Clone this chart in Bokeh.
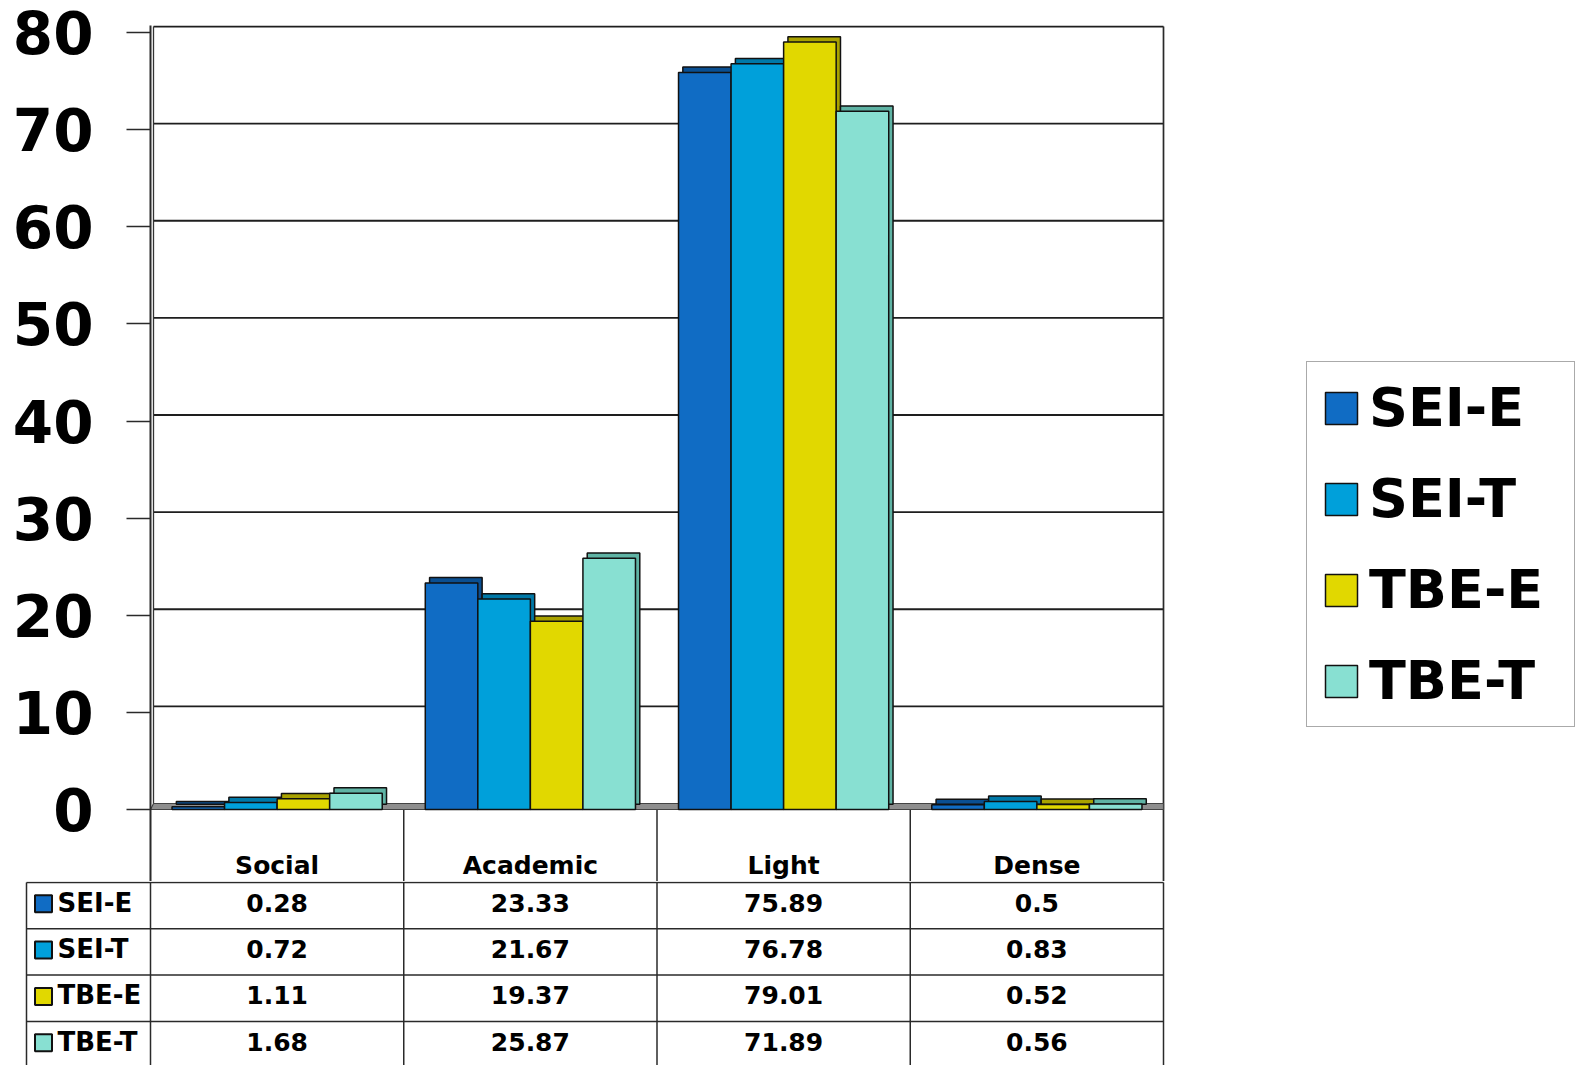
import numpy as np
from bokeh.plotting import figure
from bokeh.models import Range1d, FixedTicker, ColumnDataSource, Legend, LegendItem
from bokeh.layouts import column
from bokeh.transform import dodge
from bokeh.core.properties import value
from bokeh.embed import file_html
from bokeh.resources import INLINE

# ---------------- data ----------------
categories = ["Social", "Academic", "Light", "Dense"]
series_names = ["SEI-E", "SEI-T", "TBE-E", "TBE-T"]
sei_e = [0.28, 23.33, 75.89, 0.5]
sei_t = [0.72, 21.67, 76.78, 0.83]
tbe_e = [1.11, 19.37, 79.01, 0.52]
tbe_t = [1.68, 25.87, 71.89, 0.56]
y_ticks = [0, 10, 20, 30, 40, 50, 60, 70, 80]

series_values = [sei_e, sei_t, tbe_e, tbe_t]

# ---------------- style / geometry ----------------
front_colors = ["#106CC4", "#00A0DA", "#E1D800", "#88E0D2"]
side_colors = ["#0A4F92", "#0079A8", "#A9A200", "#5FB3A4"]
FONT = "DejaVu Sans"
LINE = "#2a2a2a"

W = 1579
H = 1065
FIG1_H = 881            # chart + table header
FIG2_H = H - FIG1_H     # table rows
AXIS_X = 150            # px of the value axis
PX_X = 253.25           # px per category
PX_Y = 9.7125           # px per value unit
ZERO_PX = 809           # px of value 0
TOP_PX = 25

n = len(categories)
BW = 0.2075          # bar width (category units)
BAR_DX = 0.017       # 3-D depth of the bars
BAR_DY = 0.55
WALL_DX = 3 / PX_X   # 3-D depth of back wall
WALL_DY = 0.62
Y_END = (ZERO_PX - TOP_PX) / PX_Y
Y_START = -(FIG1_H - ZERO_PX) / PX_Y
X_END = (W - AXIS_X) / PX_X

# ---------------- chart ----------------
p = figure(width=W, height=FIG1_H, output_backend="svg", toolbar_location=None,
           x_range=Range1d(0, X_END), y_range=Range1d(Y_START, Y_END),
           x_axis_location=None, min_border_left=AXIS_X, min_border_right=0,
           min_border_top=TOP_PX, min_border_bottom=0)
p.frame_align = False
p.background_fill_color = "white"
p.border_fill_color = "white"
p.outline_line_color = None
p.xgrid.visible = False
p.ygrid.visible = False

ax = p.yaxis[0]
ax.ticker = FixedTicker(ticks=y_ticks)
ax.axis_line_color = LINE
ax.axis_line_width = 2
ax.major_tick_line_color = LINE
ax.major_tick_line_width = 1.5
ax.major_tick_out = 24
ax.major_tick_in = 0
ax.minor_tick_line_color = None
ax.major_label_standoff = 33
ax.major_label_text_font = FONT
ax.major_label_text_font_style = "bold"
ax.major_label_text_font_size = "58px"
ax.major_label_text_color = "black"

# back-wall grid lines (incl. top border)
gy = np.array(y_ticks[1:], dtype=float) + WALL_DY
p.segment(x0=WALL_DX, x1=n, y0=gy, y1=gy, line_color="#1e1e1e", line_width=1.8)
# back wall left edge, right wall edge
p.segment(x0=WALL_DX, x1=WALL_DX, y0=WALL_DY, y1=y_ticks[-1] + WALL_DY,
          line_color="#333333", line_width=1.3)
p.segment(x0=n, x1=n, y0=Y_START, y1=y_ticks[-1] + WALL_DY, line_color=LINE, line_width=1.7)
# header column borders
hc = np.arange(1, n, dtype=float)
p.segment(x0=hc, x1=hc, y0=Y_START, y1=0, line_color=LINE, line_width=1.5)

# floor
p.patch(x=[0, n, n, WALL_DX], y=[0, 0, WALL_DY, WALL_DY],
        fill_color="#8E8E8E", line_color="#444444", line_width=1.2)

data = dict(x=np.arange(n) + 0.5)
for name, vals in zip(series_names, series_values):
    data[name] = np.array(vals, dtype=float)
    data[name + "_back"] = np.array(vals, dtype=float) + BAR_DY
src = ColumnDataSource(data)

legend_items = []
for j, name in enumerate(series_names):
    off = (j - 1.5) * BW
    p.vbar(x=dodge("x", off + BAR_DX, range=p.x_range), top=name + "_back", bottom=BAR_DY,
           width=BW, source=src, fill_color=side_colors[j], line_color="#111111", line_width=1.5)
    r = p.vbar(x=dodge("x", off, range=p.x_range), top=name, bottom=0, width=BW, source=src,
               fill_color=front_colors[j], line_color="#111111", line_width=1.5)
    legend_items.append(LegendItem(label=name, renderers=[r]))

# category names (table header row, below the floor)
HEADER_Y = -(865 - ZERO_PX) / PX_Y
p.text(x=np.arange(n) + 0.5, y=HEADER_Y, text=categories, text_align="center",
       text_baseline="middle", text_font=value(FONT), text_font_style="bold",
       text_font_size="25px", text_color="black")

legend = Legend(items=legend_items, location=(1306 - AXIS_X, FIG1_H - 727))
legend.label_text_font = FONT
legend.label_text_font_style = "bold"
legend.label_text_font_size = "54px"
legend.label_text_color = "black"
legend.glyph_width = 40
legend.glyph_height = 40
legend.label_standoff = 8
legend.spacing = 28
legend.padding = 14
legend.label_width = 191
legend.border_line_color = "#555555"
legend.border_line_width = 1.5
legend.background_fill_color = "white"
legend.background_fill_alpha = 1.0
p.add_layout(legend)

# ---------------- data table rows ----------------
PX_ROW = 46.3
ROW_TOP = -1 / PX_ROW
ROW_BOTTOM = ROW_TOP + FIG2_H / PX_ROW
LABEL_LEFT = (26 - AXIS_X) / PX_X
t = figure(width=W, height=FIG2_H, output_backend="svg", toolbar_location=None,
           x_range=Range1d(-AXIS_X / PX_X, X_END),
           y_range=Range1d(ROW_BOTTOM, ROW_TOP),
           x_axis_location=None, y_axis_location=None,
           min_border=0, min_border_left=0, min_border_right=0,
           min_border_top=0, min_border_bottom=0)
t.frame_align = False
t.outline_line_color = None
t.xgrid.visible = False
t.ygrid.visible = False
t.background_fill_color = "white"
t.border_fill_color = "white"

rows = np.arange(len(series_names), dtype=float)
t.segment(x0=LABEL_LEFT, x1=n, y0=rows, y1=rows, line_color=LINE, line_width=1.5)
cols = np.concatenate([[LABEL_LEFT], np.arange(n + 1, dtype=float)])
t.segment(x0=cols, x1=cols, y0=0, y1=ROW_BOTTOM, line_color=LINE, line_width=1.5)

# row labels with swatches
t.scatter(x=LABEL_LEFT + 17 / PX_X, y=rows + 0.46, marker="square", size=17,
          fill_color=front_colors, line_color="#111111", line_width=2)
t.text(x=LABEL_LEFT + 31 / PX_X, y=rows + 0.435, text=series_names, text_align="left",
       text_baseline="middle", text_font=value(FONT), text_font_style="bold",
       text_font_size="26px", text_color="black")

# cell values
cx, cy, ct = [], [], []
for j, vals in enumerate(series_values):
    for i, v in enumerate(vals):
        cx.append(i + 0.5)
        cy.append(j + 0.435)
        ct.append(f"{v:g}")
t.text(x=cx, y=cy, text=ct, text_align="center", text_baseline="middle",
       text_font=value(FONT), text_font_style="bold", text_font_size="25px",
       text_color="black")

layout = column(p, t, spacing=0)
open("out.html", "w").write(file_html(layout, INLINE))
